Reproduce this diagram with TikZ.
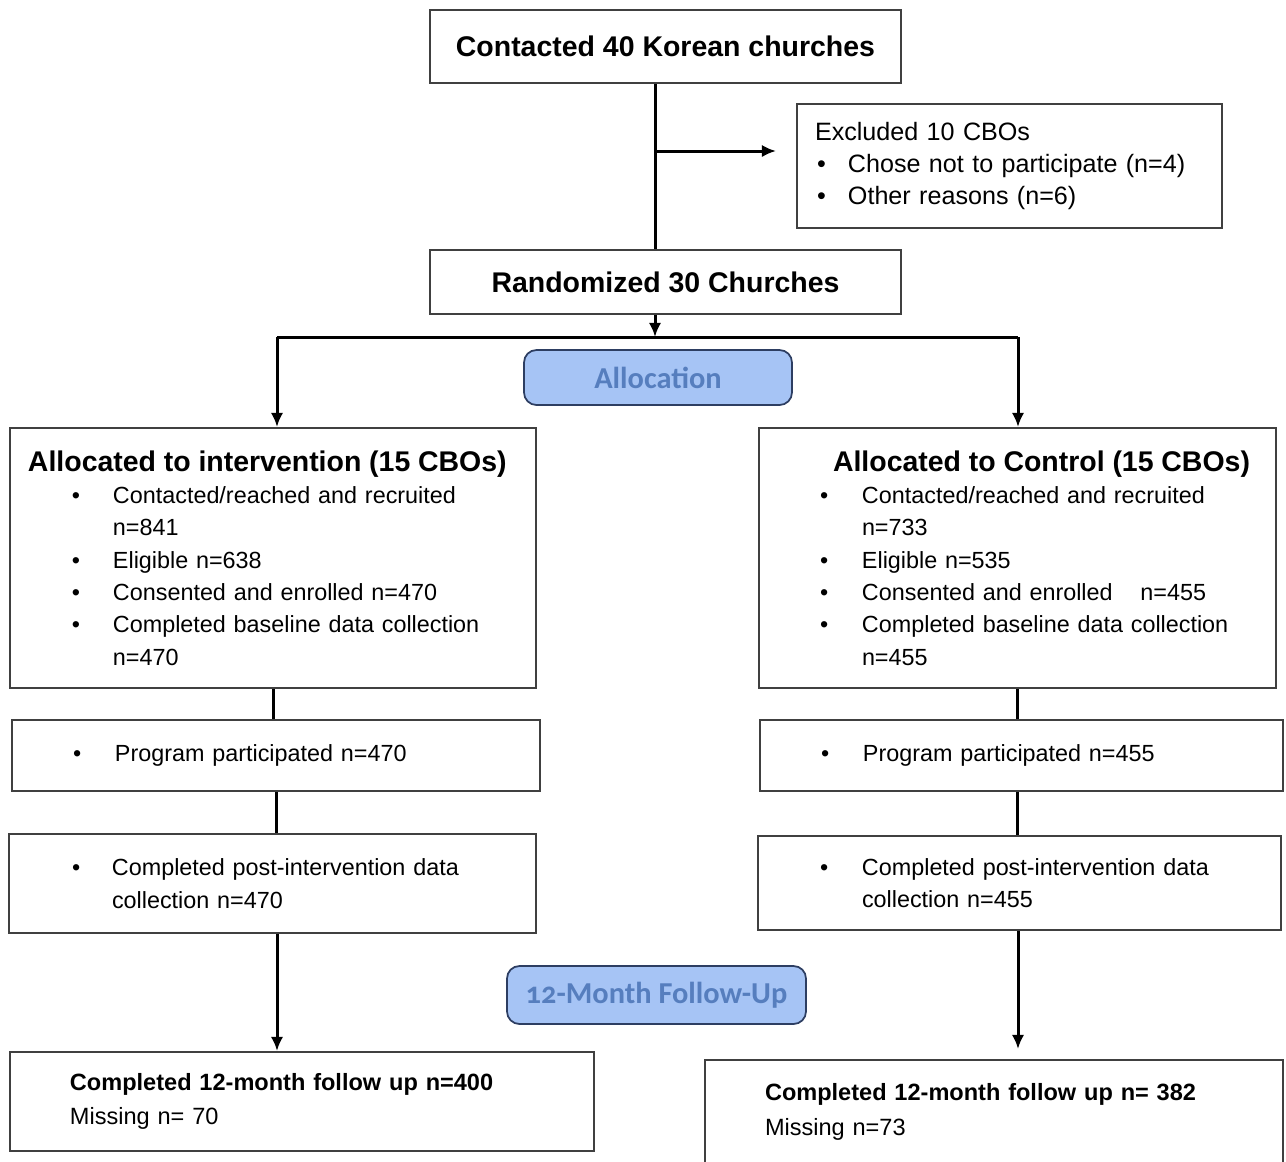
\documentclass[tikz,border=0pt]{standalone}
\usepackage{fontspec}
\setmainfont{Liberation Sans}
\newfontfamily\phasefont{Carlito}[Numbers=OldStyle]
\usetikzlibrary{arrows.meta}
\newdimen\unitpx \unitpx=0.02cm
\definecolor{phasefill}{RGB}{166,196,245}
\definecolor{phaseline}{RGB}{45,62,98}
\definecolor{phasetext}{RGB}{86,126,190}
\begin{document}
\begin{tikzpicture}[x=0.02cm,y=-0.02cm,>={Latex[length=8pt,width=7pt]},
    box/.style={draw=black!75,line width=.4mm,inner sep=0pt,align=left},
    titlebox/.style={box,align=center,font=\fontsize{16.2}{18.4}\selectfont\bfseries},
    listbox/.style={box,font=\fontsize{13.3}{18.4}\selectfont},
    phase/.style={draw=phaseline,fill=phasefill,rounded corners=2.5mm,line width=.35mm,inner sep=0pt,text=phasetext,font=\phasefont\fontsize{17.3}{20}\selectfont\bfseries},
    link/.style={line width=.6mm}]
        \newcommand{\itm}[3]{\hspace*{#1\unitpx}\makebox[#2\unitpx][l]{\textbullet}\mbox{#3}}
        \newcommand{\hd}[1]{\mbox{\fontsize{16.2}{18.4}\selectfont\bfseries #1}}
        \useasboundingbox(0,0)rectangle(1286,1161);
        \node[titlebox,minimum width=471\unitpx,minimum height=73\unitpx](contact)at(665.5,46.5){Contacted 40 Korean churches};
        \node[box,font=\fontsize{14.3}{18.4}\selectfont,minimum width=425\unitpx,minimum height=124\unitpx,text width=389\unitpx](excl)at(1009.5,166){Excluded 10 CBOs\\\itm{2}{31}{Chose not to participate (n=4)}\\\itm{2}{31}{Other reasons (n=6)}};
        \node[titlebox,minimum width=471\unitpx,minimum height=64\unitpx](random)at(665.5,282){Randomized 30 Churches};
        \node[phase,minimum width=268\unitpx,minimum height=55\unitpx](alloc)at(658,377.5){Allocation};
        \node[listbox,minimum width=526\unitpx,minimum height=260\unitpx,text width=490\unitpx](L1)at(273,558){\hd{Allocated to intervention (15 CBOs)}\\\itm{44}{41}{Contacted/reached and recruited}\\\hspace*{85\unitpx}n=841\\\itm{44}{41}{Eligible n=638}\\\itm{44}{41}{Consented and enrolled n=470}\\\itm{44}{41}{Completed baseline data collection}\\\hspace*{85\unitpx}n=470};
        \node[listbox,minimum width=517\unitpx,minimum height=260\unitpx,text width=395\unitpx](R1)at(1017.5,558){\hspace*{13\unitpx}\hd{Allocated to Control (15 CBOs)}\\\itm{0}{42}{Contacted/reached and recruited}\\\hspace*{42\unitpx}n=733\\\itm{0}{42}{Eligible n=535}\\\itm{0}{42}{Consented and enrolled\hspace{20\unitpx} n=455}\\\itm{0}{42}{Completed baseline data collection}\\\hspace*{42\unitpx}n=455};
        \node[listbox,minimum width=528\unitpx,minimum height=71\unitpx,text width=406\unitpx](L2)at(276,755.5){\itm{0}{42}{Program participated n=470}};
        \node[listbox,minimum width=523\unitpx,minimum height=71\unitpx,text width=401\unitpx](R2)at(1021.5,755.5){\itm{0}{42}{Program participated n=455}};
        \node[listbox,minimum width=527\unitpx,minimum height=99\unitpx,text width=401\unitpx](L3)at(272.5,883.5){\itm{0}{40}{Completed post-intervention data}\\\hspace*{40\unitpx}collection n=470};
        \node[listbox,minimum width=523\unitpx,minimum height=94\unitpx,text width=399\unitpx](R3)at(1019.5,883){\itm{0}{42}{Completed post-intervention data}\\\hspace*{42\unitpx}collection n=455};
        \node[phase,minimum width=299\unitpx,minimum height=58\unitpx](follow)at(656.5,995){12-Month Follow-Up};
        \node[box,font=\fontsize{13.4}{19.8}\selectfont,minimum width=584\unitpx,minimum height=99\unitpx,text width=464\unitpx](L4)at(302,1101.5){\textbf{Completed 12-month follow up n=400}\\Missing n= 70};
        \node[box,font=\fontsize{13.4}{19.8}\selectfont,minimum width=578\unitpx,minimum height=104\unitpx,text width=458\unitpx](R4)at(994,1112){\textbf{Completed 12-month follow up n= 382}\\Missing n=73};
        \coordinate(spine)at(655,151);
        \coordinate(fork)at(655,337);
        \coordinate(colL)at(277,337);
        \coordinate(colR)at(1018,337);
        \draw[link](contact.south-|spine)--(random.north-|spine);
        \draw[link,->,shorten >=20\unitpx](spine)--(spine-|excl.west);
        \draw[link,->](random.south-|fork)--(fork);
        \draw[link](colL)--(colR);
        \draw[link,->](colL)--(colL|-L1.north);
        \draw[link,->](colR)--(colR|-R1.north);
        \draw[link](L1.south)--(L1.south|-L2.north);
        \draw[link](L2.south)--(L2.south|-L3.north);
        \draw[link](R1.south)--(R1.south|-R2.north);
        \draw[link](R1.south|-R2.south)--(R1.south|-R3.north);
        \draw[link,->](colL|-L3.south)--(colL|-L4.north);
        \draw[link,->,shorten >=10\unitpx](colR|-R3.south)--(colR|-R4.north);
    \end{tikzpicture}
\end{document}
